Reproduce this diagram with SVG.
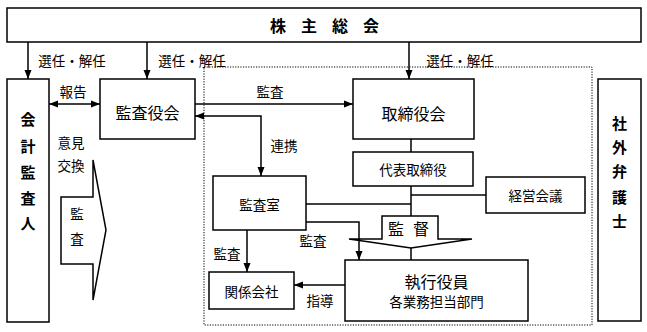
<svg xmlns="http://www.w3.org/2000/svg" width="647" height="332" viewBox="0 0 647 332">
<defs>
<style>
.box{fill:#fff;stroke:#000;stroke-width:1.5}
.dot{fill:none;stroke:#000;stroke-width:1;stroke-dasharray:1.2 1.4}
.ln{fill:none;stroke:#000;stroke-width:1.5}
text{font-family:"Noto Sans CJK JP","Noto Sans CJK SC",sans-serif;fill:#000;text-anchor:middle;dominant-baseline:central}
.t16{font-size:16px}
.t14{font-size:13.5px}
.b{font-weight:bold;font-size:15px}
</style>
<marker id="ah" markerUnits="userSpaceOnUse" markerWidth="10" markerHeight="8" refX="9" refY="4" orient="auto-start-reverse" viewBox="0 0 10 8">
<path d="M0,0.5 L9,4 L0,7.5 z" fill="#000"/>
</marker>
</defs>
<rect width="647" height="332" fill="#fff"/>
<rect class="dot" x="204" y="67" width="388" height="258"/>

<g id="shareholders">
<rect class="box" x="7" y="8" width="634" height="34"/>
<text x="332" y="25" style="font-size:16px;font-weight:bold" letter-spacing="15">株主総会</text>
</g>
<g id="auditor">
<rect class="box" x="7" y="79" width="42" height="243"/>
<text class="b" x="28" y="118">会</text>
<text class="b" x="28" y="145">計</text>
<text class="b" x="28" y="171">監</text>
<text class="b" x="28" y="197">査</text>
<text class="b" x="28" y="222">人</text>
</g>
<g id="kansayakukai">
<rect class="box" x="100" y="79" width="95" height="60"/>
<text class="t16" x="147.5" y="112">監査役会</text>
</g>
<g id="torishimariyakukai">
<rect class="box" x="353" y="79" width="121" height="60"/>
<text class="t16" x="413.5" y="113">取締役会</text>
</g>
<g id="daihyo">
<rect class="box" x="353" y="152" width="120" height="34"/>
<text class="t14" x="413" y="169">代表取締役</text>
</g>
<g id="keiei">
<rect class="box" x="486" y="177" width="99" height="36"/>
<text class="t14" x="535.5" y="195">経営会議</text>
</g>
<g id="kansashitsu">
<rect class="box" x="213" y="176" width="93" height="54"/>
<text class="t14" x="259.5" y="204">監査室</text>
</g>
<g id="kankei">
<rect class="box" x="209" y="272" width="85" height="37"/>
<text class="t14" x="251.5" y="291">関係会社</text>
</g>
<g id="shikko">
<rect class="box" x="345" y="260" width="183" height="61"/>
<text class="t16" x="436.5" y="281">執行役員</text>
<text class="t14" x="436.5" y="301">各業務担当部門</text>
</g>
<g id="bengoshi">
<rect class="box" x="598" y="79" width="43" height="242"/>
<text class="b" x="619.5" y="122">社</text>
<text class="b" x="619.5" y="146">外</text>
<text class="b" x="619.5" y="170">弁</text>
<text class="b" x="619.5" y="196">護</text>
<text class="b" x="619.5" y="220">士</text>
</g>
<g id="kantoku">
<path class="box" d="M382,216 H438 V239 H472 L411,248 L349,239 H382 Z"/>
<text x="413" y="228" style="font-size:16px" letter-spacing="9">監督</text>
</g>
<g id="kansa-left">
<path class="box" d="M93,160 L106,230 L93,300 V264 H61 V197 H93 Z"/>
<text class="t14" x="77" y="213">監</text>
<text class="t14" x="77" y="238">査</text>
</g>

<g id="connectors">
<line class="ln" x1="28" y1="42" x2="28" y2="79" marker-end="url(#ah)"/>
<line class="ln" x1="147" y1="42" x2="147" y2="79" marker-end="url(#ah)"/>
<line class="ln" x1="409" y1="42" x2="409" y2="79" marker-end="url(#ah)"/>
<line class="ln" x1="49" y1="104" x2="100" y2="104" marker-start="url(#ah)" marker-end="url(#ah)"/>
<line class="ln" x1="195" y1="104" x2="353" y2="104" marker-end="url(#ah)"/>
<path class="ln" d="M195,116 H261 V176" marker-start="url(#ah)" marker-end="url(#ah)"/>
<line class="ln" x1="411" y1="139" x2="411" y2="152"/>
<line class="ln" x1="411" y1="186" x2="411" y2="216"/>
<line class="ln" x1="411" y1="195" x2="486" y2="195"/>
<line class="ln" x1="306" y1="204" x2="411" y2="204"/>
<path class="ln" d="M306,222 H359 V260" marker-end="url(#ah)"/>
<line class="ln" x1="411" y1="248" x2="411" y2="260"/>
<line class="ln" x1="247" y1="230" x2="247" y2="272" marker-end="url(#ah)"/>
<line class="ln" x1="345" y1="285" x2="294" y2="285" marker-end="url(#ah)"/>
</g>

<g id="labels">
<text class="t14" x="72" y="60">選任・解任</text>
<text class="t14" x="192" y="60">選任・解任</text>
<text class="t14" x="460" y="60">選任・解任</text>
<text class="t14" x="73" y="91">報告</text>
<text class="t14" x="270" y="91">監査</text>
<text class="t14" x="284" y="145">連携</text>
<text class="t14" x="71" y="142">意見</text>
<text class="t14" x="71" y="165">交換</text>
<text class="t14" x="227" y="253">監査</text>
<text class="t14" x="313" y="240">監査</text>
<text class="t14" x="320" y="300">指導</text>
</g>
</svg>
